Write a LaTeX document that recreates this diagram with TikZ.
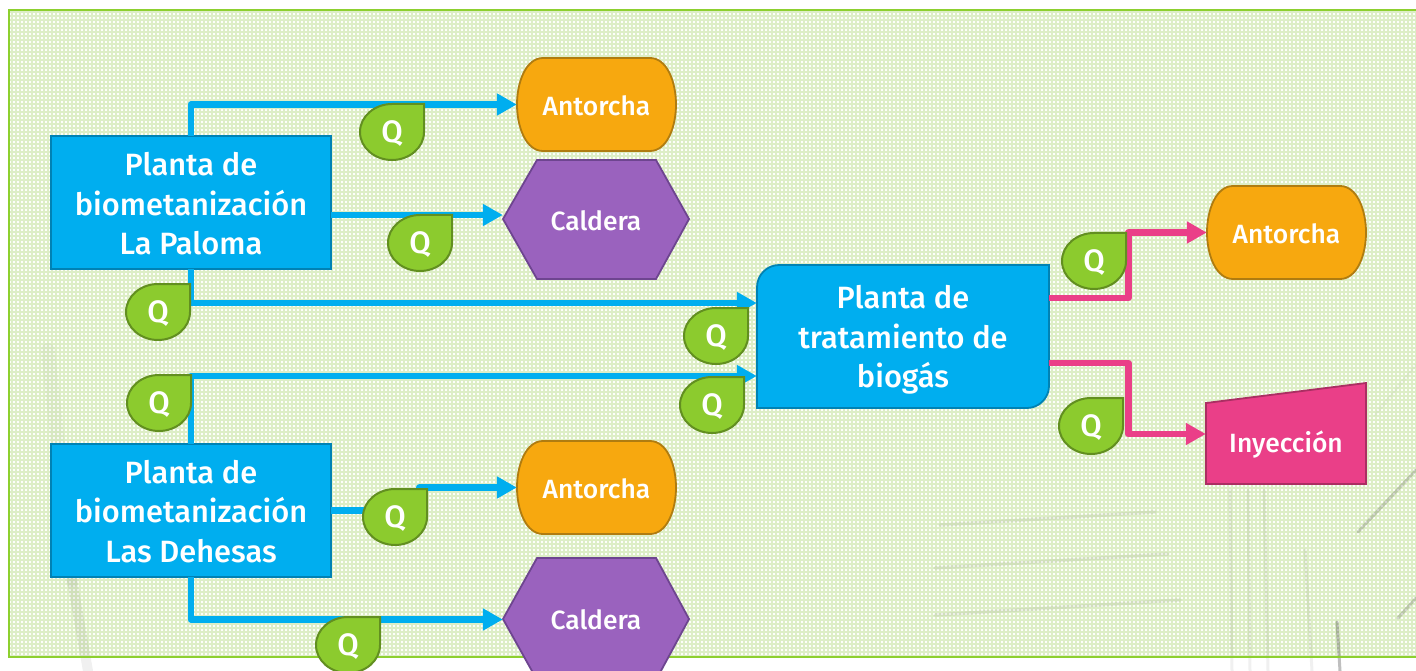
\documentclass[tikz,border=0pt]{standalone}
\usepackage{fontspec}
\setmainfont{Fira Sans Medium}
\definecolor{frameG}{HTML}{8DD02F}
\definecolor{gridG}{HTML}{DDEEC6}
\definecolor{baseG}{HTML}{FDFEFA}
\definecolor{blueF}{HTML}{00AEEF}
\definecolor{blueD}{HTML}{0082B4}
\definecolor{leafF}{HTML}{8CCB2E}
\definecolor{leafD}{HTML}{628F20}
\definecolor{orF}{HTML}{F7A80F}
\definecolor{orD}{HTML}{B07C10}
\definecolor{puF}{HTML}{9A62BE}
\definecolor{puD}{HTML}{6E4590}
\definecolor{piF}{HTML}{EA3F88}
\definecolor{piD}{HTML}{AB2E63}
\usetikzlibrary{arrows.meta,calc}
\tikzset{
  x=1pt,y=-1pt,
  txt/.style={inner sep=0,align=center,text=white},
  big/.style={txt,font=\fontsize{30.8}{39.5}\selectfont},
  mid/.style={txt,font=\fontsize{26.4}{30}\selectfont},
  qtxt/.style={txt,font=\fontsize{31}{33}\selectfont},
  box/.style={draw=blueD,fill=blueF,line width=1.8pt},
  ors/.style={draw=orD,fill=orF,line width=1.8pt},
  pus/.style={draw=puD,fill=puF,line width=1.8pt},
  pis/.style={draw=piD,fill=piF,line width=1.8pt},
  leaf/.style={draw=leafD,fill=leafF,line width=2pt,line join=miter},
  bl/.style={draw=blueF,line width=6.8pt,-{Triangle[length=20pt,width=21pt]},line join=round},
  pk/.style={draw=piF,line width=6.8pt,-{Triangle[length=20pt,width=21pt]},line join=round},
  streak/.style={draw=black,draw opacity=.06,line cap=round},
  streakb/.style={draw=black,draw opacity=.025,line cap=round},
}
\newcommand{\Leaf}[3]{% name, right x, top y
  \draw[leaf] (#2,#3) -- (#2,#3+28) .. controls (#2,#3+44) and (#2-15,#3+56) .. (#2-32,#3+56)
     .. controls (#2-49,#3+56) and (#2-64,#3+44) .. (#2-64,#3+28)
     .. controls (#2-64,#3+12) and (#2-49,#3) .. (#2-32,#3) -- cycle;
  \node[qtxt] (#1) at (#2-32,#3+30) {Q};
}
\newcommand{\Torch}[4]{% left, top, right, bottom
  \draw[ors] (#1+26,#2) -- (#3-26,#2) .. controls (#3-9,#2) and (#3,#2+24) .. (#3,{(#2+#4)/2})
     .. controls (#3,#4-24) and (#3-9,#4) .. (#3-26,#4) -- (#1+26,#4)
     .. controls (#1+9,#4) and (#1,#4-24) .. (#1,{(#2+#4)/2})
     .. controls (#1,#2+24) and (#1+9,#2) .. (#1+26,#2) -- cycle;
}
\begin{document}
\begin{tikzpicture}
\useasboundingbox (0,0) rectangle (1416,671);
\begin{scope}
\clip (0,0) rectangle (1416,671);
\fill[white] (0,0) rectangle (1416,671);
\fill[baseG] (9,10) rectangle (1420,657);
\draw[gridG,line width=1.6pt,step=4pt] (9,10) grid (1420,657);
% faint background streaks
\draw[streakb,line width=14pt] (48,350) -- (72,580);
\draw[streak,line width=10pt] (72,580) -- (88,671);
\draw[streak,line width=3.5pt] (940,525) -- (1155,512);
\draw[streak,line width=3.5pt] (935,568) -- (1168,554);
\draw[streak,line width=3.5pt] (935,615) -- (1180,600);
\draw[streak,line width=3pt] (1230,490) -- (1232,671);
\draw[streak,line width=3pt] (1248,490) -- (1250,671);
\draw[streak,line width=3pt] (1264,490) -- (1268,671);
\draw[streak,line width=3pt] (1305,550) -- (1312,671);
\draw[streak,line width=3pt,draw opacity=.25] (1337,622) -- (1340,671);
\draw[streak,line width=3pt,draw opacity=.16] (1416,470) -- (1358,532);
\draw[streak,line width=3pt,draw opacity=.16] (1416,598) -- (1398,618);
\draw[streakb,line width=3pt] (1416,365) -- (1375,415);
\draw[frameG,line width=2.8pt] (1420,10) -- (9,10) -- (9,657) -- (1420,657);

% shapes
\draw[box] (51,136) rectangle (331,269);
\node[big,minimum width=280pt,minimum height=133pt] (b1) at (191,202.5) {};
\node[big] (b1t) at (191,204) {Planta de\\biometanización\\La Paloma};
\draw[box] (51,444) rectangle (331,577);
\node[big,minimum width=280pt,minimum height=133pt] (b2) at (191,510.5) {};
\node[big] (b2t) at (191,511.5) {Planta de\\biometanización\\Las Dehesas};
\draw[box] (757,287) .. controls (757,275) and (767,265) .. (779,265) -- (1049,265) -- (1049,386)
   .. controls (1049,398) and (1039,408) .. (1027,408) -- (757,408) -- cycle;
\node[big,minimum width=292pt,minimum height=143pt] (pt) at (903,336.5) {};
\node[big] (ptt) at (903,340) {Planta de\\tratamiento de\\biogás};
\Torch{517}{58}{676}{151}
\node[mid,minimum width=159pt,minimum height=93pt] (a1) at (596.5,104.5) {};
\node[mid] (a1t) at (596.5,106) {Antorcha};
\Torch{517}{441}{676}{534}
\node[mid,minimum width=159pt,minimum height=93pt] (a2) at (596.5,487.5) {};
\node[mid] (a2t) at (596.5,489) {Antorcha};
\Torch{1207}{186}{1366}{279}
\node[mid,minimum width=159pt,minimum height=93pt] (a3) at (1286.5,232.5) {};
\node[mid] (a3t) at (1286.5,234) {Antorcha};
\draw[pus] (503,219) -- (537,160) -- (656,160) -- (689,219) -- (656,279) -- (537,279) -- cycle;
\node[mid,minimum width=186pt,minimum height=119pt] (c1) at (596,221) {Caldera};
\draw[pus] (503,619) -- (537,558) -- (656,558) -- (689,619) -- (656,680) -- (537,680) -- cycle;
\node[mid,minimum width=186pt,minimum height=122pt] (c2) at (596,619.5) {Caldera};
\draw[pis] (1206,403) -- (1366,383) -- (1366,484) -- (1206,484) -- cycle;
\node[mid,minimum width=160pt,minimum height=101pt] (iy) at (1286,434) {};
\node[mid] (iyt) at (1286,445) {Inyección};

% connectors
\draw[bl] (b1.north) |- (a1.west);
\draw[bl] ($(b1.east)+(0,12.5)$) -- ($(c1.west)+(0,-6)$);
\draw[bl] (b1.south) |- ($(pt.west)+(0,-33.5)$);
\draw[bl] (b2.north) |- ($(pt.west)+(0,39.5)$);
\draw[bl] (b2.east) -- ++(88,0) |- (a2.west);
\draw[bl] (b2.south) |- (c2.west);
\draw[pk] ($(pt.east)+(0,-38.5)$) -- ++(79,0) |- (a3.west);
\draw[pk] ($(pt.east)+(0,26.5)$) -- ++(79,0) |- (iy.west);

% leaves
\Leaf{q1}{424}{104}
\Leaf{q2}{452}{215}
\Leaf{q3}{190}{284}
\Leaf{q4}{748}{308}
\Leaf{q5}{744}{377}
\Leaf{q6}{191}{375}
\Leaf{q7}{1126}{233}
\Leaf{q8}{1123}{398}
\Leaf{q9}{427}{489}
\Leaf{q10}{380}{617}
\end{scope}
\end{tikzpicture}
\end{document}
